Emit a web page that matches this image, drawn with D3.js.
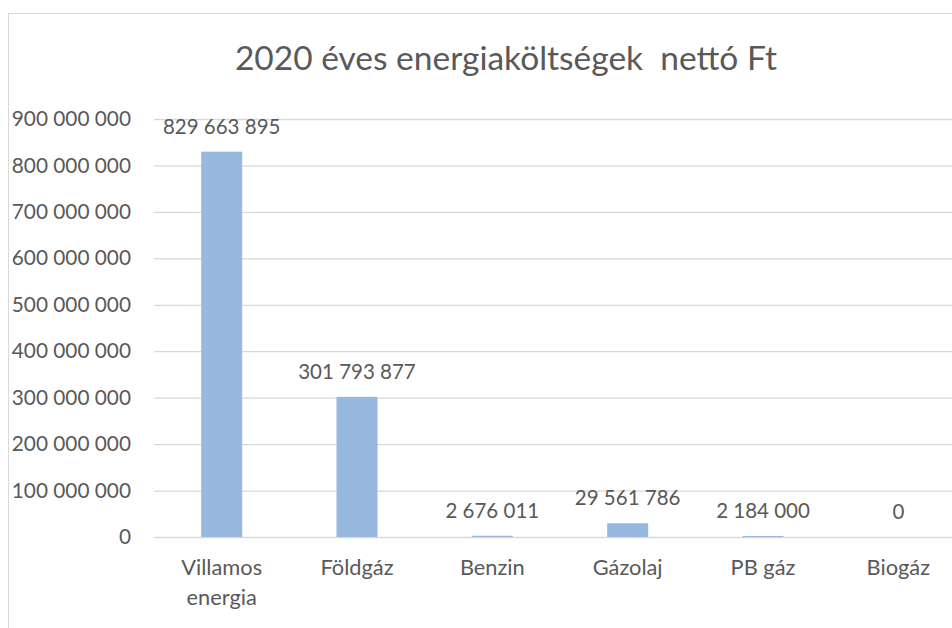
<!DOCTYPE html>
<html><head><meta charset="utf-8">
<script src="https://cdn.jsdelivr.net/npm/d3@7"></script>
<style>html,body{margin:0;padding:0;background:#fff;}svg{display:block;font-family:Lato,"Noto Sans",sans-serif;}</style>
</head><body><svg id="c" width="952" height="628"></svg>
<script>
const categories = [["Villamos","energia"],["Földgáz"],["Benzin"],["Gázolaj"],["PB gáz"],["Biogáz"]];
const values = [829663895, 301793877, 2676011, 29561786, 2184000, 0];
const yTicks = [0,100000000,200000000,300000000,400000000,500000000,600000000,700000000,800000000,900000000];
const title = "2020 éves energiaköltségek  nettó Ft";

const svg = d3.select("#c");
const txt = "#595959";
const fmt = v => d3.format(",")(v).replace(/,/g," ");
svg.append("rect").attr("width",952).attr("height",628).attr("fill","#fff");
svg.append("rect").attr("x",8.5).attr("y",13.5).attr("width",1000).attr("height",700)
  .attr("fill","none").attr("stroke","#d9d9d9");

const x = d3.scaleBand().domain(categories.map((c,i)=>i)).range([154,966]).paddingInner(0.697).paddingOuter(0.3485);
const y = d3.scaleLinear().domain([0,900000000]).range([537,119]);

const ga = svg.append("g").attr("transform","translate(154,0)")
  .call(d3.axisLeft(y).tickValues(yTicks).tickSize(-812).tickFormat(fmt).tickPadding(23));
ga.select(".domain").remove();
ga.selectAll(".tick line").attr("stroke","#d9d9d9").attr("stroke-width",1.3);
ga.selectAll(".tick text").attr("fill",txt).attr("font-size",20.8).attr("font-family","Lato");

svg.append("g").selectAll("rect").data(values).join("rect")
  .attr("x",(d,i)=>x(i)).attr("width",x.bandwidth())
  .attr("y",d=>y(d)).attr("height",d=>y(0)-y(d)).attr("fill","#97b9e0");

svg.append("g").selectAll("text").data(values).join("text")
  .attr("x",(d,i)=>x(i)+x.bandwidth()/2).attr("y",d=>y(d)-18)
  .attr("text-anchor","middle").attr("fill",txt).attr("font-size",20.5).text(fmt);

const gx = svg.append("g").selectAll("text").data(categories).join("text")
  .attr("x",(d,i)=>x(i)+x.bandwidth()/2).attr("y",575)
  .attr("text-anchor","middle").attr("fill",txt).attr("font-size",21.8);
gx.selectAll("tspan").data(d=>d).join("tspan")
  .attr("x",function(){return this.parentNode.getAttribute("x");})
  .attr("dy",(d,i)=>i?30:0).text(d=>d);

svg.append("text").attr("x",506).attr("y",70).attr("text-anchor","middle")
  .attr("fill",txt).attr("font-size",33.5).style("white-space","pre").text(title);
</script></body></html>
